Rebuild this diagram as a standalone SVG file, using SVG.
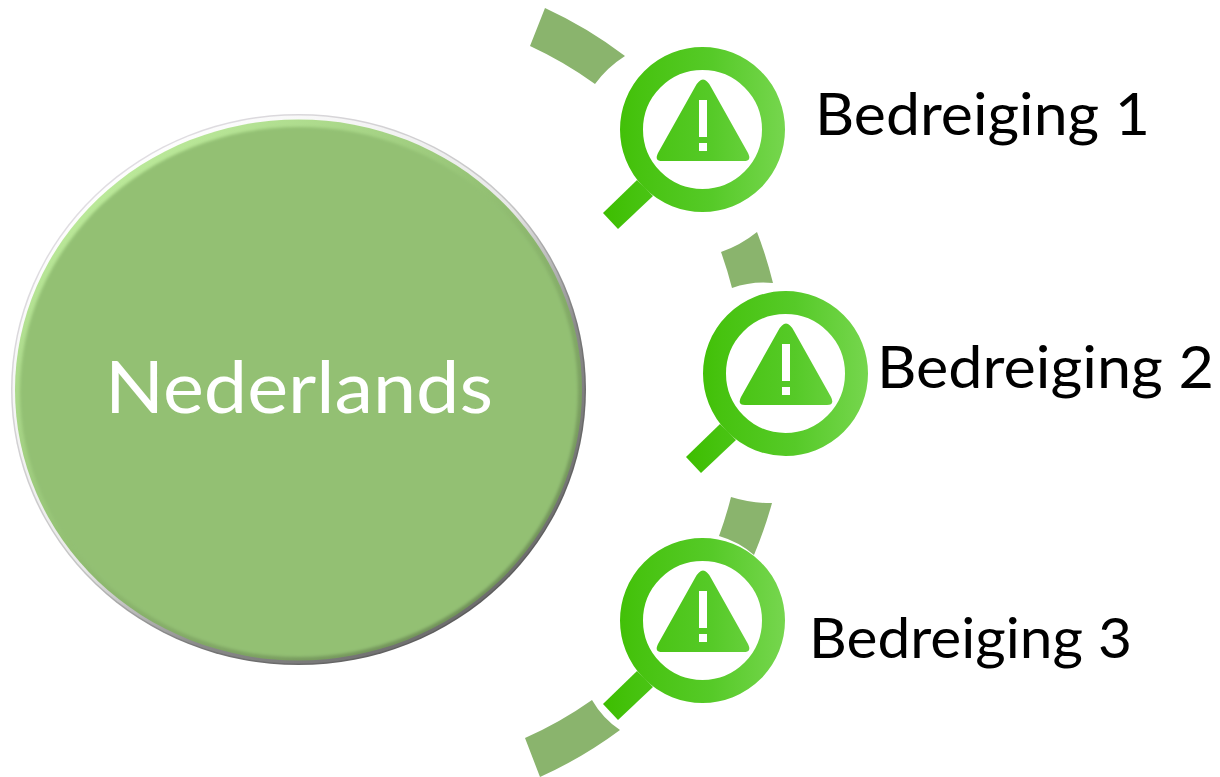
<svg xmlns="http://www.w3.org/2000/svg" xmlns:xlink="http://www.w3.org/1999/xlink" width="1220" height="777" viewBox="0 0 1220 777">
<style>
.arc{fill:#8AB46D}
.lbl{font-family:"Lato","Liberation Sans",sans-serif;font-size:58px;fill:#000}
.big{font-family:"Lato","Liberation Sans",sans-serif;font-size:72px;fill:#fff}
</style>
<defs>
<linearGradient id="mg" gradientUnits="userSpaceOnUse" x1="603" y1="0" x2="785" y2="0">
<stop offset="0" stop-color="#3DBE00"/><stop offset="0.2" stop-color="#47C310"/><stop offset="0.6" stop-color="#56CA28"/><stop offset="1" stop-color="#76D64E"/>
</linearGradient>
<linearGradient id="rim" x1="0.15" y1="0.1" x2="0.85" y2="0.9">
<stop offset="0" stop-color="#e2dfe4"/><stop offset="0.5" stop-color="#c4c4c4"/><stop offset="0.72" stop-color="#777"/><stop offset="1" stop-color="#5a5a5a"/>
</linearGradient>
<linearGradient id="rim2" x1="0.15" y1="0.1" x2="0.85" y2="0.9">
<stop offset="0" stop-color="#fff"/><stop offset="0.5" stop-color="#e8e8e8"/><stop offset="0.72" stop-color="#8a8a8a"/><stop offset="1" stop-color="#6a6a6a"/>
</linearGradient>
<linearGradient id="bevel" x1="0.15" y1="0.1" x2="0.85" y2="0.9">
<stop offset="0" stop-color="#BDEB9C"/><stop offset="0.45" stop-color="#93C073"/><stop offset="1" stop-color="#6F8F58"/>
</linearGradient>
<filter id="soft" x="-5%" y="-5%" width="110%" height="110%"><feGaussianBlur stdDeviation="1.6"/></filter>
<g id="mag">
<circle cx="702.5" cy="129.5" r="71" fill="none" stroke="url(#mg)" stroke-width="23"/>
<path d="M637 180L603 213L618 229L653 196Z" fill="url(#mg)"/>
<path fill-rule="evenodd" fill="url(#mg)" d="M695 87Q703 72 711 87L748 153Q752 161 744 161H662Q654 161 658 153ZM699 100V137H707V100ZM699 143V151H707V143Z"/>
</g>
</defs>
<g id="connectors">
<path class="arc" d="M545 8A426 426 0 0 1 625 56A110 110 0 0 0 595 84A385 385 0 0 0 530 46Z"/>
<path class="arc" d="M721 252A120 120 0 0 0 757 232A426 426 0 0 1 773 283A92 92 0 0 0 732 288A385 385 0 0 0 721 252Z"/>
<path class="arc" d="M731 497A130 130 0 0 0 772 503A426 426 0 0 1 754 555A92 92 0 0 0 719 536A385 385 0 0 0 731 497Z"/>
<path class="arc" d="M525 738A385 385 0 0 0 592 700A90 90 0 0 0 620 730A426 426 0 0 1 540 777Z"/>
</g>
<g id="nederlands">
<ellipse cx="298.5" cy="389.5" rx="287.5" ry="275.5" fill="url(#rim)"/>
<ellipse cx="298.5" cy="389.5" rx="286" ry="274" fill="url(#rim2)"/>
<ellipse cx="298.5" cy="390" rx="283.5" ry="270.5" fill="url(#bevel)"/>
<ellipse cx="299" cy="392" rx="279" ry="265" fill="#93C073" filter="url(#soft)"/>
<text class="big" x="105" y="413" textLength="388" lengthAdjust="spacingAndGlyphs">Nederlands</text>
</g>
<g id="bedreiging-1">
<use xlink:href="#mag" href="#mag"/>
<text class="lbl" x="815" y="135" textLength="335" lengthAdjust="spacingAndGlyphs">Bedreiging 1</text>
</g>
<g id="bedreiging-2">
<use xlink:href="#mag" href="#mag" transform="translate(83 244)"/>
<text class="lbl" x="877" y="388" textLength="337" lengthAdjust="spacingAndGlyphs">Bedreiging 2</text>
</g>
<g id="bedreiging-3">
<use xlink:href="#mag" href="#mag" transform="translate(0 491)"/>
<text class="lbl" x="809" y="658" style="font-size:56px" textLength="323" lengthAdjust="spacingAndGlyphs">Bedreiging 3</text>
</g>
</svg>
